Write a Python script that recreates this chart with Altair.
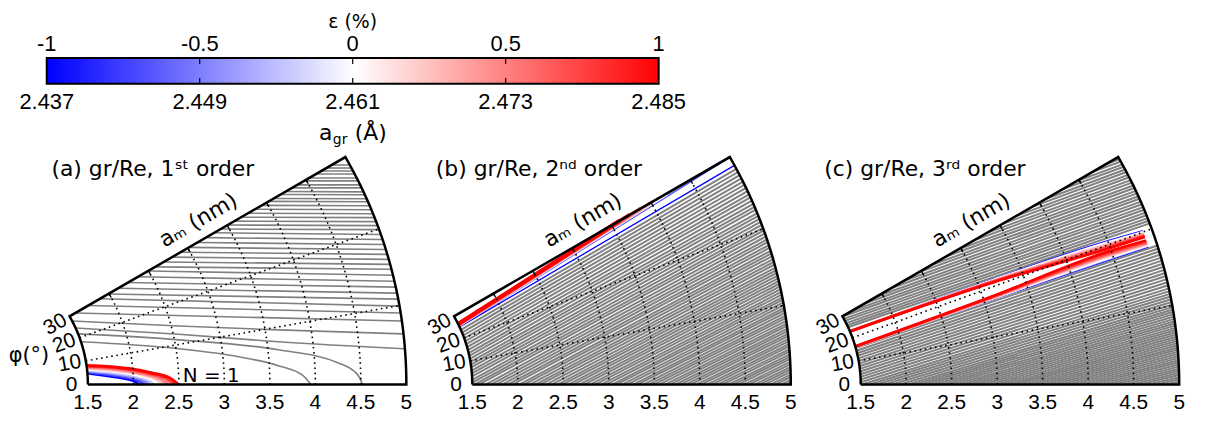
import numpy as np
import pandas as pd
import altair as alt

# ====================== values ======================
# colour bar
EPS_TICKS = [-1.0, -0.5, 0.0, 0.5, 1.0]
EPS_LABELS = ["-1", "-0.5", "0", "0.5", "1"]
AGR_LABELS = ["2.437", "2.449", "2.461", "2.473", "2.485"]

# polar axes (a_m in nm, phi in degrees)
AM_TICKS = [1.5, 2.0, 2.5, 3.0, 3.5, 4.0, 4.5, 5.0]
AM_LABELS = ["1.5", "2", "2.5", "3", "3.5", "4", "4.5", "5"]
PHI_TICKS = [0, 10, 20, 30]
PHI_LABELS = ["0", "10", "20", "30"]
GRID_AM = [2.0, 2.5, 3.0, 3.5, 4.0, 4.5]
GRID_PHI = [10.0, 20.0]
AM_MIN, AM_MAX, PHI_MAX = 1.5, 5.0, 30.0

TITLES = ["(a) gr/Re, 1ˢᵗ order", "(b) gr/Re, 2ⁿᵈ order", "(c) gr/Re, 3ʳᵈ order"]

# ---- panel (a): grey lines as (phi where the line meets a_m = 5 nm, line direction in deg)
A_GREY = [(28.85, 0.0), (28.42, 0.0), (28.00, 0.0), (27.57, 0.0), (27.01, 0.0), (26.59, 0.0),
          (26.03, 0.0), (25.61, 0.0), (25.06, -0.2), (24.65, -0.2), (24.10, -0.2), (23.69, -0.2),
          (23.14, -0.2), (22.60, -0.2), (22.06, -0.2), (21.52, -0.2), (20.98, -0.2), (20.45, -0.2),
          (19.91, -0.2), (19.25, -0.6), (18.59, -0.6), (17.93, -0.6), (17.27, -0.6), (16.62, -0.6),
          (15.97, -0.6), (15.32, -0.6), (14.67, -0.6), (13.90, -1.0), (13.12, -1.0), (12.36, -1.0),
          (11.59, -1.0), (10.82, -1.0), (9.93, -1.4), (9.04, -1.4), (8.03, -1.4)]
# curved grey lines of panel (a): (a_m, phi) points
A_GREY_CURVES = [
    [(1.5, 27.76), (2.582, 14.45), (3.642, 9.49), (5.0, 6.39)],
    [(1.5, 24.51), (2.560, 12.48), (3.622, 7.45), (5.0, 4.51)],
    [(1.5, 21.79), (2.548, 11.12), (3.612, 6.07), (4.253, 3.24), (4.466, 1.40), (4.520, 0.0)],
    [(1.5, 18.24), (2.531, 8.93), (3.170, 5.53), (3.597, 3.31), (3.866, 1.46), (3.952, 0.0)],
]
# N = 1 band of panel (a), one curve per strain value
A_BAND_EPS = [-1.0, -0.75, -0.5, -0.25, 0.0, 0.25, 0.5, 0.75, 1.0]
A_BAND = [
    [(1.5, 4.85), (1.72, 3.20), (1.88, 2.20), (2.00, 1.20), (2.06, 0.0)],
    [(1.5, 5.25), (1.75, 3.50), (1.92, 2.40), (2.05, 1.30), (2.12, 0.0)],
    [(1.5, 5.65), (1.78, 3.80), (1.96, 2.60), (2.10, 1.35), (2.17, 0.0)],
    [(1.5, 6.05), (1.81, 4.05), (2.00, 2.75), (2.15, 1.40), (2.23, 0.0)],
    [(1.5, 6.45), (1.84, 4.30), (2.04, 2.90), (2.20, 1.45), (2.28, 0.0)],
    [(1.5, 6.85), (1.87, 4.50), (2.09, 3.00), (2.25, 1.50), (2.34, 0.0)],
    [(1.5, 7.25), (1.90, 4.75), (2.13, 3.10), (2.30, 1.55), (2.39, 0.0)],
    [(1.5, 7.65), (1.93, 4.95), (2.17, 3.20), (2.36, 1.60), (2.45, 0.0)],
    [(1.5, 8.05), (1.96, 5.15), (2.21, 3.30), (2.41, 1.60), (2.50, 0.0)],
]

# ---- panel (b)
B_GREY = [(0.3, 26.0), (0.6, 26.0), (0.95, 26.0), (1.25, 26.0), (1.6, 26.0), (1.9, 26.0), (2.2, 26.0),
          (2.55, 26.1), (2.85, 26.1), (3.2, 26.1), (3.5, 26.1), (3.8, 26.2), (4.15, 26.2), (4.45, 26.2),
          (4.8, 26.3), (5.1, 26.3), (5.45, 26.3), (5.75, 26.4), (6.1, 26.4), (6.4, 26.4), (6.75, 26.5),
          (7.05, 26.5), (7.4, 26.6), (7.7, 26.6), (8.05, 26.6), (8.4, 26.7), (8.7, 26.7), (9.05, 26.8),
          (9.4, 26.8), (9.7, 26.9), (10.05, 26.9), (10.4, 27.0), (10.75, 27.0), (11.05, 27.1),
          (11.4, 27.1), (11.75, 27.2), (12.1, 27.2), (12.45, 27.3), (12.8, 27.3), (13.15, 27.4),
          (13.5, 27.4), (13.85, 27.5), (14.2, 27.5), (14.55, 27.6), (14.9, 27.6), (15.3, 27.7),
          (15.65, 27.7), (16.0, 27.8), (16.4, 27.9), (16.75, 27.9), (17.1, 28.0), (17.5, 28.0),
          (17.85, 28.1), (18.25, 28.2), (18.6, 28.2), (19.0, 28.3), (19.4, 28.4), (19.8, 28.4),
          (20.15, 28.5), (20.55, 28.6), (20.95, 28.7), (21.35, 28.7), (21.75, 28.8), (22.15, 28.9),
          (22.6, 29.0), (23.0, 29.1), (23.4, 29.2), (23.85, 29.3), (24.3, 29.4), (24.7, 29.5),
          (25.15, 29.6), (25.6, 29.7), (26.05, 29.8), (26.5, 29.9), (26.95, 30.0), (27.4, 30.1),
          (27.85, 30.2), (28.3, 30.3)]
B_BAND_EPS = [-1.0, -0.75, -0.5, -0.25, 0.0, 0.25, 0.5, 0.75, 1.0]
B_BAND = [
    [(1.5, 25.0), (5.0, 28.8)],
    [(1.5, 25.45), (4.88, 30.0)],
    [(1.5, 25.6), (4.62, 30.0)],
    [(1.5, 25.75), (4.40, 30.0)],
    [(1.5, 25.9), (4.20, 30.0)],
    [(1.5, 26.0), (4.02, 30.0)],
    [(1.5, 26.1), (3.87, 30.0)],
    [(1.5, 26.2), (3.73, 30.0)],
    [(1.5, 26.3), (3.60, 30.0)],
]

# ---- panel (c)
C_GREY = [(20.75, 19.0), (21.1, 19.1), (21.45, 19.2), (21.85, 19.3), (22.2, 19.4), (22.6, 19.5),
          (22.95, 19.6), (23.35, 19.7), (23.7, 19.75), (24.1, 19.8), (24.45, 19.85), (24.85, 19.9),
          (25.2, 19.95), (25.6, 20.0), (25.95, 20.05), (26.35, 20.1), (26.7, 20.15), (27.1, 20.2),
          (27.45, 20.25), (27.85, 20.3), (28.2, 20.3), (28.6, 20.3), (28.95, 20.3), (29.35, 20.3),
          (29.7, 20.3),
          (17.8, 18.8), (17.4, 18.7), (17.0, 18.6), (16.6, 18.5), (16.2, 18.4), (15.8, 18.3),
          (15.4, 18.2), (15.0, 18.1), (14.6, 18.0), (14.2, 17.9), (13.8, 17.8), (13.4, 17.7),
          (13.0, 17.6), (12.6, 17.5), (12.2, 17.4), (11.85, 17.3), (11.5, 17.2), (11.15, 17.1),
          (10.8, 17.0), (10.45, 16.9), (10.1, 16.8), (9.8, 16.7), (9.5, 16.6), (9.2, 16.5),
          (8.9, 16.4), (8.6, 16.3), (8.3, 16.2), (8.0, 16.1), (7.72, 16.0), (7.44, 15.9),
          (7.16, 15.8), (6.88, 15.7), (6.6, 15.6), (6.32, 15.5), (6.04, 15.4), (5.76, 15.3),
          (5.5, 15.2), (5.22, 15.1), (4.95, 15.0), (4.68, 14.9), (4.41, 14.8), (4.14, 14.7),
          (3.87, 14.6), (3.6, 14.5), (3.33, 14.4), (3.06, 14.3), (2.8, 14.2), (2.53, 14.1),
          (2.26, 14.0), (2.0, 13.9), (1.73, 13.8), (1.46, 13.7), (1.2, 13.6), (0.93, 13.5),
          (0.66, 13.4), (0.4, 13.3), (0.15, 13.2)]
C_BAND_EPS = [-1.0, -0.75, -0.5, -0.25, 0.0, 0.25, 0.5, 0.75, 1.0]
C_BAND_UPPER = [
    [(1.5, 23.10), (3.17, 21.45), (4.49, 20.60), (4.90, 20.20)],
    [(1.5, 23.05), (3.17, 21.40), (4.49, 20.50), (4.90, 20.15)],
    [(1.5, 23.00), (3.17, 21.35), (4.49, 20.45), (4.90, 20.10)],
    [(1.5, 23.00), (3.17, 21.30), (4.49, 20.40), (4.90, 20.05)],
    [(1.5, 22.95), (3.17, 21.20), (4.49, 20.30), (4.90, 19.95)],
    [(1.5, 22.95), (3.17, 21.10), (4.49, 20.10), (4.90, 19.80)],
    [(1.5, 22.90), (3.17, 21.00), (4.49, 19.90), (4.90, 19.65)],
    [(1.5, 22.90), (3.17, 20.90), (4.49, 19.70), (4.90, 19.50)],
    [(1.5, 22.90), (3.17, 20.80), (4.49, 19.50), (4.90, 19.35)],
]
C_BAND_LOWER = [
    [(1.5, 15.80), (3.11, 17.55), (4.48, 17.90), (4.90, 17.95)],
    [(1.5, 15.85), (3.11, 17.60), (4.48, 17.97), (4.90, 18.00)],
    [(1.5, 15.90), (3.11, 17.65), (4.48, 18.03), (4.90, 18.05)],
    [(1.5, 15.95), (3.11, 17.70), (4.48, 18.10), (4.90, 18.10)],
    [(1.5, 16.00), (3.11, 17.80), (4.48, 18.25), (4.90, 18.20)],
    [(1.5, 16.05), (3.11, 17.90), (4.48, 18.45), (4.90, 18.35)],
    [(1.5, 16.10), (3.11, 18.00), (4.48, 18.65), (4.90, 18.50)],
    [(1.5, 16.15), (3.11, 18.10), (4.48, 18.85), (4.90, 18.65)],
    [(1.5, 16.20), (3.11, 18.20), (4.48, 19.10), (4.90, 18.85)],
]

# ====================== layout ======================
PX = 91.6                      # pixels per nm of a_m
W, H = 1200, 400
ORIGIN_PX = [-65.0, 322.0, 713.0]   # x pixel of the polar centre of each panel
BASE_PX = 369.7                      # y pixel of the phi = 0 edge
OX = [o / PX for o in ORIGIN_PX]
OY = (H - BASE_PX) / PX
T30 = np.tan(np.radians(PHI_MAX))
PHI_STEPS = np.arange(0.0, PHI_MAX + 0.5, 1.0)   # drawing resolution of arcs
GREY_W = [1.6, 2.0, 2.0]

FONT = "DejaVu Sans"
NUMFONT = "Liberation Sans"


def polar_xy(p, am, phi):
    r = np.radians(phi)
    return OX[p] + am * np.cos(r), OY + am * np.sin(r)


def add_path(rows, pid, pts, p, **extra):
    for k, (am, phi) in enumerate(pts):
        x, y = polar_xy(p, am, phi)
        rows.append(dict(id=pid, k=k, x=x, y=y, **extra))


def grey_segment(phi_end, direction):
    """straight line through (a_m=5, phi_end), traced back to where it enters the wedge"""
    pe, a = np.radians(phi_end), np.radians(direction)
    ex, ey = AM_MAX * np.cos(pe), AM_MAX * np.sin(pe)
    dx, dy = np.cos(a), np.sin(a)
    ts = []
    if dy > 1e-9:
        ts.append(ey / dy)
    den = T30 * dx - dy
    if den > 1e-9:
        t = (T30 * ex - ey) / den
        if t > 0:
            ts.append(t)
    b = ex * dx + ey * dy
    disc = b * b - (AM_MAX ** 2 - AM_MIN ** 2)
    if disc >= 0:
        t = b - np.sqrt(disc)
        if t > 0:
            ts.append(t)
    t = min(ts)
    return [(ex - t * dx, ey - t * dy), (ex, ey)]


# grey lines
grey_rows = []
for p, lines in enumerate([A_GREY, B_GREY, C_GREY]):
    for i, (pe, d) in enumerate(lines):
        for k, (lx, ly) in enumerate(grey_segment(pe, d)):
            grey_rows.append(dict(id=f"g{p}_{i:03d}", k=k, x=OX[p] + lx, y=OY + ly, w=GREY_W[p]))
for i, pts in enumerate(A_GREY_CURVES):
    add_path(grey_rows, f"gc0_{i}", pts, 0, w=GREY_W[0])
grey_df = pd.DataFrame(grey_rows)

# coloured (strain) lines
band_rows = []
for i, (e, pts) in enumerate(zip(A_BAND_EPS, A_BAND)):
    add_path(band_rows, f"a{i:02d}", pts, 0, eps=e, w=3.0)
for i, (e, pts) in enumerate(zip(B_BAND_EPS, B_BAND)):
    add_path(band_rows, f"b{i:02d}", pts, 1, eps=e,
             w=1.3 if e == -1.0 else (2.4 if e < 0 else 4.2))
for i, e in enumerate(C_BAND_EPS):
    wv = 1.0 if e < 0 else 2.8
    add_path(band_rows, f"c{i:02d}l", C_BAND_LOWER[i], 2, eps=e, w=wv)
    add_path(band_rows, f"c{i:02d}u", C_BAND_UPPER[i], 2, eps=e, w=wv)
band_df = pd.DataFrame(band_rows)

# grid and frame
grid_rows, frame_rows, tick_rows = [], [], []
for p in range(3):
    for r in GRID_AM:
        add_path(grid_rows, f"ga{p}_{r}", [(r, f) for f in PHI_STEPS], p)
    for f in GRID_PHI:
        add_path(grid_rows, f"gp{p}_{f}", [(AM_MIN, f), (AM_MAX, f)], p)
    pts = ([(AM_MIN, 0.0), (AM_MAX, 0.0)] + [(AM_MAX, f) for f in PHI_STEPS]
           + [(AM_MIN, PHI_MAX)] + [(AM_MIN, f) for f in PHI_STEPS[::-1]])
    add_path(frame_rows, f"f{p}", pts, p)
    for r in AM_TICKS[1:-1]:
        x0, y0 = polar_xy(p, r, PHI_MAX)
        n = 0.05
        tick_rows.append(dict(id=f"t{p}_{r}", k=0, x=x0, y=y0))
        tick_rows.append(dict(id=f"t{p}_{r}", k=1, x=x0 + n * np.sin(np.radians(PHI_MAX)),
                              y=y0 - n * np.cos(np.radians(PHI_MAX))))
grid_df = pd.DataFrame(grid_rows)
frame_df = pd.DataFrame(frame_rows)
tick_df = pd.DataFrame(tick_rows)

# texts
am_lab, phi_lab, am_title, titles = [], [], [], []
for p in range(3):
    for r, lab in zip(AM_TICKS, AM_LABELS):
        x, y = polar_xy(p, r, 0.0)
        am_lab.append(dict(x=x, y=y, lab=lab))
    for f, lab in zip(PHI_TICKS, PHI_LABELS):
        x, y = polar_xy(p, AM_MIN - 0.18, f)
        phi_lab.append(dict(x=x, y=y, lab=lab, ang=(360 - f) % 360))
    x, y = polar_xy(p, 2.78, PHI_MAX)
    am_title.append(dict(x=x, y=y, lab="aₘ (nm)"))
    titles.append(dict(px=ORIGIN_PX[p] + 100.7, py=160.0, lab=TITLES[p]))
nx, ny = polar_xy(0, 2.5, 0.0)

XS = alt.Scale(domain=[0, W / PX], nice=False, zero=False)
YS = alt.Scale(domain=[0, H / PX], nice=False, zero=False)
CBX = alt.Scale(domain=[-1, 1], range=[31, 647], nice=False, zero=False)
CS = alt.Scale(domain=[-1, 0, 1], range=["#0000ff", "#ffffff", "#ff0000"], interpolate="rgb")


def X():
    return alt.X("x:Q", scale=XS, axis=None)


def Y():
    return alt.Y("y:Q", scale=YS, axis=None)


grey = alt.Chart(grey_df).mark_line(color="#808080", interpolate="monotone").encode(
    x=X(), y=Y(), detail="id:N", order="k:Q", strokeWidth=alt.StrokeWidth("w:Q", scale=None))
band = alt.Chart(band_df).mark_line(interpolate="monotone").encode(
    x=X(), y=Y(), detail="id:N", order="k:Q",
    color=alt.Color("eps:Q", scale=CS, legend=None),
    strokeWidth=alt.StrokeWidth("w:Q", scale=None))
grid = alt.Chart(grid_df).mark_line(color="black", strokeWidth=1.6, strokeDash=[1.6, 3.6]).encode(
    x=X(), y=Y(), detail="id:N", order="k:Q")
frame = alt.Chart(frame_df).mark_line(color="black", strokeWidth=2.5, strokeJoin="miter").encode(
    x=X(), y=Y(), detail="id:N", order="k:Q")
ticks = alt.Chart(tick_df).mark_line(color="black", strokeWidth=1.3).encode(
    x=X(), y=Y(), detail="id:N", order="k:Q")

am_text = alt.Chart(pd.DataFrame(am_lab)).mark_text(
    font=NUMFONT, fontSize=21, dy=19, align="center", baseline="middle", color="black").encode(
    x=X(), y=Y(), text="lab:N")
phi_text = alt.Chart(pd.DataFrame(phi_lab)).mark_text(
    font=NUMFONT, fontSize=21, align="center", baseline="middle", color="black").encode(
    x=X(), y=Y(), text="lab:N", angle=alt.Angle("ang:Q", scale=None))
am_title_text = alt.Chart(pd.DataFrame(am_title)).mark_text(
    font=FONT, fontSize=22, angle=330, align="left", baseline="alphabetic", dy=-12, color="black").encode(
    x=X(), y=Y(), text="lab:N")
title_text = alt.Chart(pd.DataFrame(titles)).mark_text(
    font=FONT, fontSize=22, align="left", baseline="alphabetic", color="black").encode(
    x=alt.X("px:Q", scale=None), y=alt.Y("py:Q", scale=None), text="lab:N")
n1_text = alt.Chart(pd.DataFrame([dict(x=nx, y=ny, lab="N = 1")])).mark_text(
    font=FONT, fontSize=20, align="left", baseline="alphabetic", dx=4, dy=-3, color="black").encode(
    x=X(), y=Y(), text="lab:N")
phi_axis_title = alt.Chart(pd.DataFrame([dict(lab="φ(°)")])).mark_text(
    font=FONT, fontSize=21, align="center", baseline="middle", color="black").encode(
    x=alt.value(13), y=alt.value(341), text="lab:N")

# colour bar
cb_df = pd.DataFrame({"eps": np.round(np.arange(-1.0, 1.0, 0.01), 4)})
cb_df["eps2"] = np.minimum(cb_df["eps"] + 0.0125, 1.0)
cb_rect = alt.Chart(cb_df).mark_rect().encode(
    x=alt.X("eps:Q", scale=CBX, axis=None), x2="eps2:Q",
    y=alt.value(41), y2=alt.value(67),
    color=alt.Color("eps:Q", scale=CS, legend=None))
cb_border = alt.Chart(pd.DataFrame({"eps": [-1.0], "eps2": [1.0]})).mark_rect(
    fillOpacity=0, stroke="black", strokeWidth=2).encode(
    x=alt.X("eps:Q", scale=CBX, axis=None), x2="eps2:Q", y=alt.value(41), y2=alt.value(67))
inner = pd.DataFrame({"eps": EPS_TICKS[1:-1]})
cb_tick_top = alt.Chart(inner).mark_rule(color="black", strokeWidth=1.2).encode(
    x=alt.X("eps:Q", scale=CBX, axis=None), y=alt.value(41), y2=alt.value(47))
cb_tick_bot = alt.Chart(inner).mark_rule(color="black", strokeWidth=1.2).encode(
    x=alt.X("eps:Q", scale=CBX, axis=None), y=alt.value(61), y2=alt.value(67))
lab_df = pd.DataFrame({"eps": EPS_TICKS, "lab": EPS_LABELS, "agr": AGR_LABELS})
cb_top_lab = alt.Chart(lab_df).mark_text(font=NUMFONT, fontSize=22, baseline="middle").encode(
    x=alt.X("eps:Q", scale=CBX, axis=None), y=alt.value(27), text="lab:N")
cb_bot_lab = alt.Chart(lab_df).mark_text(font=NUMFONT, fontSize=22, baseline="middle").encode(
    x=alt.X("eps:Q", scale=CBX, axis=None), y=alt.value(85), text="agr:N")
zero = pd.DataFrame({"eps": [0.0], "a": ["a"], "g": ["gr"], "u": ["(Å)"], "t": ["ε (%)"]})
cb_title = alt.Chart(zero).mark_text(font=FONT, fontSize=19, baseline="middle").encode(
    x=alt.X("eps:Q", scale=CBX, axis=None), y=alt.value(5), text="t:N")
cb_a = alt.Chart(zero).mark_text(font=FONT, fontSize=22, align="left", baseline="alphabetic", dx=-34).encode(
    x=alt.X("eps:Q", scale=CBX, axis=None), y=alt.value(124), text="a:N")
cb_g = alt.Chart(zero).mark_text(font=FONT, fontSize=14, align="left", baseline="alphabetic", dx=-20).encode(
    x=alt.X("eps:Q", scale=CBX, axis=None), y=alt.value(128), text="g:N")
cb_u = alt.Chart(zero).mark_text(font=FONT, fontSize=22, align="left", baseline="alphabetic", dx=2).encode(
    x=alt.X("eps:Q", scale=CBX, axis=None), y=alt.value(124), text="u:N")

chart = alt.layer(
    grey, band, grid, frame, ticks,
    am_text, phi_text, am_title_text, title_text, n1_text, phi_axis_title,
    cb_rect, cb_border, cb_tick_top, cb_tick_bot, cb_top_lab, cb_bot_lab, cb_title, cb_a, cb_g, cb_u,
).resolve_scale(x="independent").properties(
    width=W, height=H,
    padding={"left": 8, "top": 8, "right": 0, "bottom": 0},
    autosize=alt.AutoSizeParams(type="none"),
).configure_view(stroke=None)

chart.save("out.html", embed_options={"renderer": "svg", "actions": False})
